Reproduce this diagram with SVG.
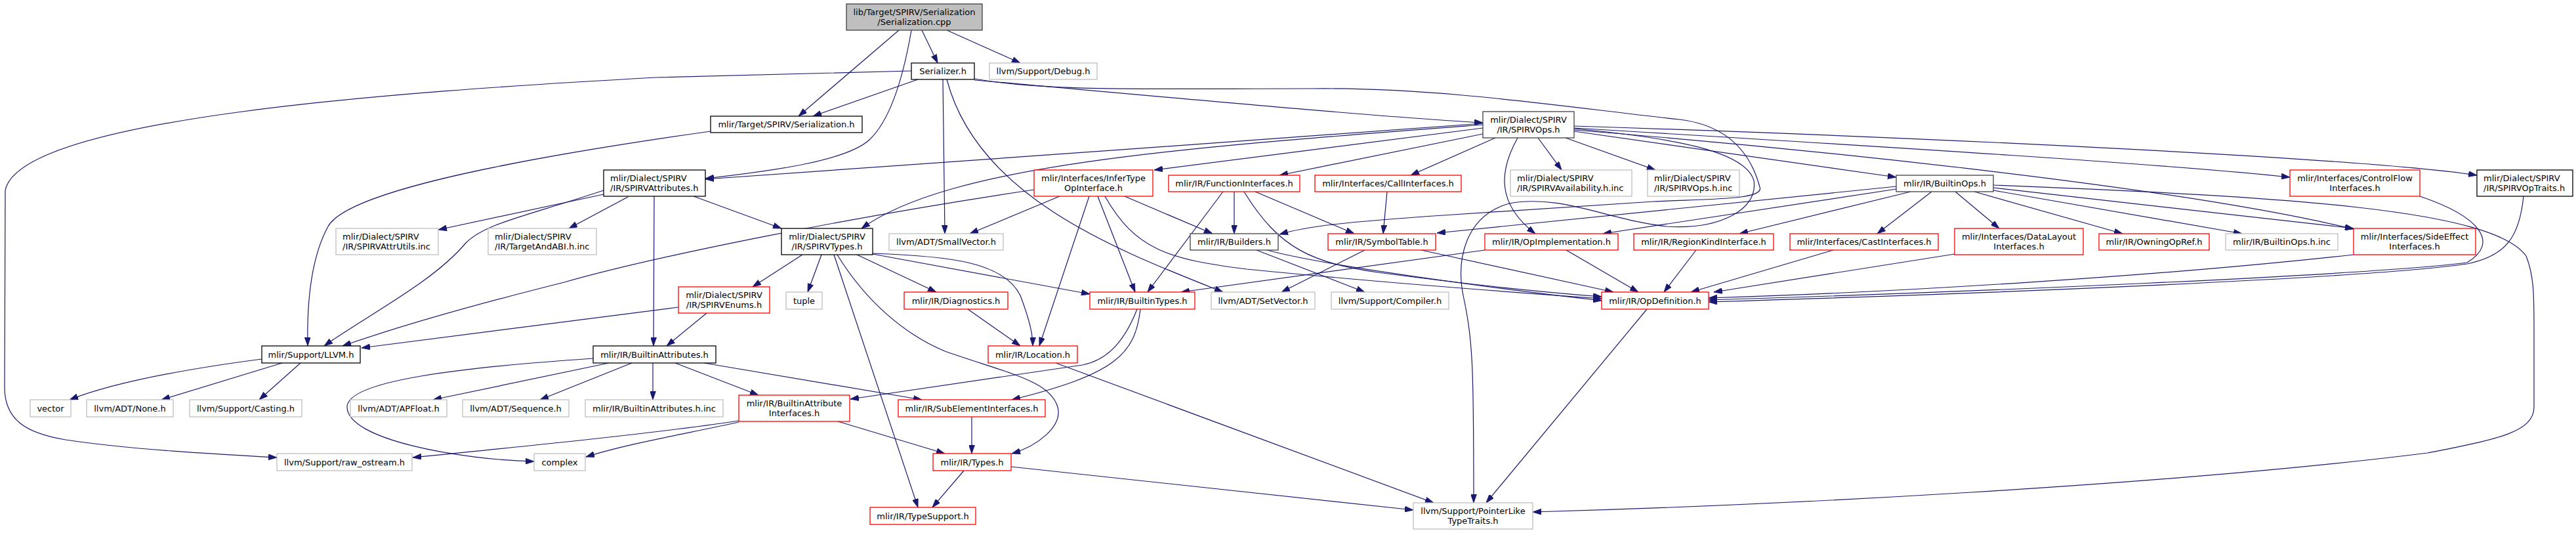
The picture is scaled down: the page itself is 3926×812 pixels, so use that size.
<svg xmlns="http://www.w3.org/2000/svg" width="3926" height="812" viewBox="0 0 3926 812">
<style>
text{font-family:"DejaVu Sans","Liberation Sans",sans-serif;font-size:13px;fill:#000}
.c{text-anchor:middle}
.l{text-anchor:start}
rect{fill:#fff;stroke-width:1.3}
.k{stroke:#000}
.d{stroke:#404040}
.g{stroke:#bfbfbf}
.r{stroke:#ff0000}
.root{fill:#bfbfbf;stroke:#404040}
.e{fill:none;stroke:#191970;stroke-width:1.2;marker-end:url(#ah)}
</style>
<defs>
<marker id="ah" viewBox="0 0 13 9" refX="13" refY="4.5" markerWidth="13" markerHeight="9" markerUnits="userSpaceOnUse" orient="auto">
<path d="M0,0 L13,4.5 L0,9 z" fill="#191970" stroke="#191970" stroke-width="0.8"/>
</marker>
</defs>
<rect x="0" y="0" width="3926" height="812" style="fill:#fff;stroke:none"/>
<g id="edges">
<path class="e" d="M1370,46 L1217,177"/>
<path class="e" d="M1389,46 C1378,110 1360,180 1325,213 C1290,245 1180,260 1075,272"/>
<path class="e" d="M1405,46 L1429,96"/>
<path class="e" d="M1443,46 L1555,96"/>
<path class="e" d="M1389,108 L1000,118 C600,140 30,180 8,290 L7,590 C7,640 40,660 100,670 C200,685 330,692 422,697"/>
<path class="e" d="M1399,121 L1239,177"/>
<path class="e" d="M1437,121 L1440,356"/>
<path class="e" d="M1443,121 C1490,300 1700,380 1864,445"/>
<path class="e" d="M1485,122 C1800,150 2100,178 2260,187"/>
<path class="e" d="M1485,120 C1600,140 1750,135 2000,135 C2200,133 2400,165 2560,182 C2640,192 2670,240 2682,285 C2690,305 2600,303 2520,307 L2200,328 C2050,338 1990,345 1950,357"/>
<path class="e" d="M1083,200 C800,240 530,290 500,345 C470,400 468,480 469,527"/>
<path class="e" d="M920,296 L668,350"/>
<path class="e" d="M957,300 L867,348"/>
<path class="e" d="M920,290 C800,330 740,340 710,370 C660,430 560,480 494,527"/>
<path class="e" d="M997,299 L996,527"/>
<path class="e" d="M1057,299 L1191,348"/>
<path class="e" d="M2260,188 C1900,215 1400,250 1075,273"/>
<path class="e" d="M2260,190 C1800,225 1450,250 1313,348"/>
<path class="e" d="M2260,195 L1759,259"/>
<path class="e" d="M2260,204 L1950,267"/>
<path class="e" d="M2279,210 L2150,267"/>
<path class="e" d="M2344,210 L2380,259"/>
<path class="e" d="M2386,210 L2523,259"/>
<path class="e" d="M2313,210 C2285,260 2280,310 2340,356"/>
<path class="e" d="M2399,200 L2890,270"/>
<path class="e" d="M2399,192 C2900,208 3600,240 3775,267"/>
<path class="e" d="M2399,195 C2900,225 3300,250 3490,270"/>
<path class="e" d="M2399,198 C2700,222 3300,280 3587,349"/>
<path class="e" d="M2399,196 C2550,210 2660,230 2673,275 C2680,320 2620,350 2540,345 C2450,335 2380,295 2300,310 C2230,330 2220,400 2230,450 C2245,520 2246,560 2246,766"/>
<path class="e" d="M1576,289 C1300,330 1000,390 860,430 C700,470 600,500 522,527"/>
<path class="e" d="M1615,299 L1478,356"/>
<path class="e" d="M1714,299 L1848,356"/>
<path class="e" d="M1660,299 L1584,527"/>
<path class="e" d="M1673,299 L1730,445"/>
<path class="e" d="M1684,299 C1730,380 1780,395 1900,410 C2100,430 2300,445 2441,455"/>
<path class="e" d="M1881,292 L1881,356"/>
<path class="e" d="M1864,292 L1749,445"/>
<path class="e" d="M1896,292 C1950,380 2000,400 2100,415 C2250,435 2350,445 2441,452"/>
<path class="e" d="M1913,292 L2064,356"/>
<path class="e" d="M1915,381 L2080,445"/>
<path class="e" d="M1931,381 C2000,400 2200,430 2441,458"/>
<path class="e" d="M2114,292 L2108,356"/>
<path class="e" d="M2080,381 L1953,445"/>
<path class="e" d="M2166,381 L2459,445"/>
<path class="e" d="M2263,381 L1800,445"/>
<path class="e" d="M2387,381 L2497,445"/>
<path class="e" d="M2585,381 L2536,445"/>
<path class="e" d="M2794,381 L2577,445"/>
<path class="e" d="M2979,387 L2612,445"/>
<path class="e" d="M2890,284 L2190,355"/>
<path class="e" d="M2890,288 L2443,356"/>
<path class="e" d="M2912,292 L2651,356"/>
<path class="e" d="M2944,292 L2861,356"/>
<path class="e" d="M2980,292 L3047,348"/>
<path class="e" d="M3009,292 L3235,356"/>
<path class="e" d="M3038,290 L3417,356"/>
<path class="e" d="M3038,286 L3587,348"/>
<path class="e" d="M3038,282 C3500,300 3800,320 3850,390 C3862,420 3862,450 3862,500 L3862,620 C3862,660 3800,670 3700,690 C3300,740 2700,770 2336,780"/>
<path class="e" d="M3688,299 C3780,330 3810,370 3760,400 C3600,420 3000,445 2604,457"/>
<path class="e" d="M3846,299 C3840,360 3820,390 3760,402 C3600,425 3000,448 2604,460"/>
<path class="e" d="M3587,388 C3300,420 2900,445 2604,454"/>
<path class="e" d="M2510,471 L2265,766"/>
<path class="e" d="M1609,553 L2185,766"/>
<path class="e" d="M1541,711 L2154,777"/>
<path class="e" d="M1223,388 L1147,437"/>
<path class="e" d="M1252,388 L1231,445"/>
<path class="e" d="M1271,388 L1399,773"/>
<path class="e" d="M1276,388 C1320,460 1380,510 1440,535 C1540,570 1600,580 1612,620 C1620,650 1580,680 1542,691"/>
<path class="e" d="M1306,388 L1427,445"/>
<path class="e" d="M1330,387 L1661,448"/>
<path class="e" d="M1330,386 C1450,390 1530,400 1555,450 C1570,490 1574,510 1574,527"/>
<path class="e" d="M1034,468 L551,530"/>
<path class="e" d="M1077,477 L1016,527"/>
<path class="e" d="M1475,471 L1555,527"/>
<path class="e" d="M1733,471 C1710,530 1680,550 1650,556 L1296,608"/>
<path class="e" d="M1738,471 C1730,540 1700,570 1542,609"/>
<path class="e" d="M904,546 C700,560 529,580 529,620 C529,670 700,700 814,703"/>
<path class="e" d="M928,553 L660,609"/>
<path class="e" d="M963,553 L823,609"/>
<path class="e" d="M995,553 L995,609"/>
<path class="e" d="M1029,553 L1156,602"/>
<path class="e" d="M1073,553 L1405,609"/>
<path class="e" d="M1126,641 C1000,660 800,680 629,697"/>
<path class="e" d="M1126,643 C1050,660 960,675 893,696"/>
<path class="e" d="M1277,642 L1440,691"/>
<path class="e" d="M1481,635 L1481,691"/>
<path class="e" d="M1469,717 L1421,773"/>
<path class="e" d="M399,547 C300,560 180,580 106,609"/>
<path class="e" d="M430,553 L246,609"/>
<path class="e" d="M458,553 L395,609"/>
</g>
<g id="n_cpp"><rect class="root" x="1290" y="6" width="207" height="40"/><text class="c" x="1393.5" y="22.5">lib/Target/SPIRV/Serialization</text><text class="c" x="1393.5" y="37.5">/Serialization.cpp</text></g>
<g id="n_serializer"><rect class="k" x="1389" y="96" width="96" height="25"/><text class="c" x="1437" y="113">Serializer.h</text></g>
<g id="n_debug"><rect class="g" x="1508" y="96" width="164" height="25"/><text class="c" x="1590" y="113">llvm/Support/Debug.h</text></g>
<g id="n_serialization"><rect class="k" x="1083" y="177" width="231" height="25"/><text class="c" x="1198.5" y="194">mlir/Target/SPIRV/Serialization.h</text></g>
<g id="n_spirvops"><rect class="d" x="2260" y="170" width="139" height="40"/><text class="c" x="2329.5" y="186.5">mlir/Dialect/SPIRV</text><text class="c" x="2329.5" y="201.5">/IR/SPIRVOps.h</text></g>
<g id="n_attrs"><rect class="k" x="920" y="259" width="155" height="40"/><text class="l" x="930" y="275.5">mlir/Dialect/SPIRV</text><text class="l" x="930" y="290.5">/IR/SPIRVAttributes.h</text></g>
<g id="n_infer"><rect class="r" x="1576" y="259" width="181" height="40"/><text class="c" x="1666.5" y="275.5">mlir/Interfaces/InferType</text><text class="c" x="1666.5" y="290.5">OpInterface.h</text></g>
<g id="n_funcif"><rect class="r" x="1781" y="267" width="200" height="25"/><text class="c" x="1881" y="284">mlir/IR/FunctionInterfaces.h</text></g>
<g id="n_callif"><rect class="r" x="2004" y="267" width="223" height="25"/><text class="c" x="2115.5" y="284">mlir/Interfaces/CallInterfaces.h</text></g>
<g id="n_avail"><rect class="g" x="2302" y="259" width="185" height="40"/><text class="l" x="2312" y="275.5">mlir/Dialect/SPIRV</text><text class="l" x="2312" y="290.5">/IR/SPIRVAvailability.h.inc</text></g>
<g id="n_opsinc"><rect class="g" x="2511" y="259" width="140" height="40"/><text class="l" x="2521" y="275.5">mlir/Dialect/SPIRV</text><text class="l" x="2521" y="290.5">/IR/SPIRVOps.h.inc</text></g>
<g id="n_builtinops"><rect class="d" x="2890" y="267" width="148" height="25"/><text class="c" x="2964" y="284">mlir/IR/BuiltinOps.h</text></g>
<g id="n_cf"><rect class="r" x="3490" y="259" width="198" height="40"/><text class="c" x="3589" y="275.5">mlir/Interfaces/ControlFlow</text><text class="c" x="3589" y="290.5">Interfaces.h</text></g>
<g id="n_optraits"><rect class="k" x="3775" y="259" width="146" height="40"/><text class="l" x="3785" y="275.5">mlir/Dialect/SPIRV</text><text class="l" x="3785" y="290.5">/IR/SPIRVOpTraits.h</text></g>
<g id="n_attrutils"><rect class="g" x="512" y="348" width="156" height="40"/><text class="l" x="522" y="364.5">mlir/Dialect/SPIRV</text><text class="l" x="522" y="379.5">/IR/SPIRVAttrUtils.inc</text></g>
<g id="n_targetabi"><rect class="g" x="744" y="348" width="165" height="40"/><text class="l" x="754" y="364.5">mlir/Dialect/SPIRV</text><text class="l" x="754" y="379.5">/IR/TargetAndABI.h.inc</text></g>
<g id="n_types"><rect class="k" x="1191" y="348" width="139" height="40"/><text class="c" x="1260.5" y="364.5">mlir/Dialect/SPIRV</text><text class="c" x="1260.5" y="379.5">/IR/SPIRVTypes.h</text></g>
<g id="n_smallvec"><rect class="g" x="1355" y="356" width="174" height="25"/><text class="c" x="1442" y="373">llvm/ADT/SmallVector.h</text></g>
<g id="n_builders"><rect class="d" x="1814" y="356" width="134" height="25"/><text class="c" x="1881" y="373">mlir/IR/Builders.h</text></g>
<g id="n_symtab"><rect class="r" x="2024" y="356" width="164" height="25"/><text class="c" x="2106" y="373">mlir/IR/SymbolTable.h</text></g>
<g id="n_opimpl"><rect class="r" x="2263" y="356" width="203" height="25"/><text class="c" x="2364.5" y="373">mlir/IR/OpImplementation.h</text></g>
<g id="n_regionkind"><rect class="r" x="2490" y="356" width="213" height="25"/><text class="c" x="2596.5" y="373">mlir/IR/RegionKindInterface.h</text></g>
<g id="n_cast"><rect class="r" x="2728" y="356" width="226" height="25"/><text class="c" x="2841" y="373">mlir/Interfaces/CastInterfaces.h</text></g>
<g id="n_datalayout"><rect class="r" x="2979" y="348" width="196" height="40"/><text class="c" x="3077" y="364.5">mlir/Interfaces/DataLayout</text><text class="c" x="3077" y="379.5">Interfaces.h</text></g>
<g id="n_owning"><rect class="r" x="3199" y="356" width="168" height="25"/><text class="c" x="3283" y="373">mlir/IR/OwningOpRef.h</text></g>
<g id="n_builtinopsinc"><rect class="g" x="3392" y="356" width="171" height="25"/><text class="c" x="3477.5" y="373">mlir/IR/BuiltinOps.h.inc</text></g>
<g id="n_sideeffect"><rect class="r" x="3587" y="348" width="186" height="40"/><text class="c" x="3680" y="364.5">mlir/Interfaces/SideEffect</text><text class="c" x="3680" y="379.5">Interfaces.h</text></g>
<g id="n_enums"><rect class="r" x="1034" y="437" width="139" height="40"/><text class="c" x="1103.5" y="453.5">mlir/Dialect/SPIRV</text><text class="c" x="1103.5" y="468.5">/IR/SPIRVEnums.h</text></g>
<g id="n_tuple"><rect class="g" x="1198" y="445" width="55" height="26"/><text class="c" x="1225.5" y="462.5">tuple</text></g>
<g id="n_diag"><rect class="r" x="1378" y="445" width="158" height="26"/><text class="c" x="1457" y="462.5">mlir/IR/Diagnostics.h</text></g>
<g id="n_builtintypes"><rect class="r" x="1661" y="445" width="160" height="26"/><text class="c" x="1741" y="462.5">mlir/IR/BuiltinTypes.h</text></g>
<g id="n_setvector"><rect class="g" x="1846" y="445" width="158" height="26"/><text class="c" x="1925" y="462.5">llvm/ADT/SetVector.h</text></g>
<g id="n_compiler"><rect class="g" x="2029" y="445" width="179" height="26"/><text class="c" x="2118.5" y="462.5">llvm/Support/Compiler.h</text></g>
<g id="n_opdef"><rect class="r" x="2441" y="445" width="163" height="26"/><text class="c" x="2522.5" y="462.5">mlir/IR/OpDefinition.h</text></g>
<g id="n_llvm"><rect class="k" x="399" y="527" width="150" height="26"/><text class="c" x="474" y="544.5">mlir/Support/LLVM.h</text></g>
<g id="n_builtinattrs"><rect class="k" x="904" y="527" width="187" height="26"/><text class="c" x="997.5" y="544.5">mlir/IR/BuiltinAttributes.h</text></g>
<g id="n_location"><rect class="r" x="1506" y="527" width="136" height="26"/><text class="c" x="1574" y="544.5">mlir/IR/Location.h</text></g>
<g id="n_vector"><rect class="g" x="46" y="609" width="62" height="26"/><text class="c" x="77" y="626.5">vector</text></g>
<g id="n_none"><rect class="g" x="132" y="609" width="132" height="26"/><text class="c" x="198" y="626.5">llvm/ADT/None.h</text></g>
<g id="n_casting"><rect class="g" x="289" y="609" width="171" height="26"/><text class="c" x="374.5" y="626.5">llvm/Support/Casting.h</text></g>
<g id="n_apfloat"><rect class="g" x="534" y="609" width="147" height="26"/><text class="c" x="607.5" y="626.5">llvm/ADT/APFloat.h</text></g>
<g id="n_sequence"><rect class="g" x="705" y="609" width="162" height="26"/><text class="c" x="786" y="626.5">llvm/ADT/Sequence.h</text></g>
<g id="n_battrsinc"><rect class="g" x="892" y="609" width="210" height="26"/><text class="c" x="997" y="626.5">mlir/IR/BuiltinAttributes.h.inc</text></g>
<g id="n_baif"><rect class="r" x="1126" y="602" width="169" height="40"/><text class="c" x="1210.5" y="618.5">mlir/IR/BuiltinAttribute</text><text class="c" x="1210.5" y="633.5">Interfaces.h</text></g>
<g id="n_subelem"><rect class="r" x="1369" y="609" width="224" height="26"/><text class="c" x="1481" y="626.5">mlir/IR/SubElementInterfaces.h</text></g>
<g id="n_rawostream"><rect class="g" x="422" y="691" width="206" height="26"/><text class="c" x="525" y="708.5">llvm/Support/raw_ostream.h</text></g>
<g id="n_complex"><rect class="g" x="814" y="691" width="78" height="26"/><text class="c" x="853" y="708.5">complex</text></g>
<g id="n_irtypes"><rect class="r" x="1422" y="691" width="119" height="26"/><text class="c" x="1481.5" y="708.5">mlir/IR/Types.h</text></g>
<g id="n_typesupport"><rect class="r" x="1326" y="773" width="161" height="26"/><text class="c" x="1406.5" y="790.5">mlir/IR/TypeSupport.h</text></g>
<g id="n_pointerlike"><rect class="g" x="2154" y="766" width="182" height="40"/><text class="c" x="2245" y="782.5">llvm/Support/PointerLike</text><text class="c" x="2245" y="797.5">TypeTraits.h</text></g>
</svg>
